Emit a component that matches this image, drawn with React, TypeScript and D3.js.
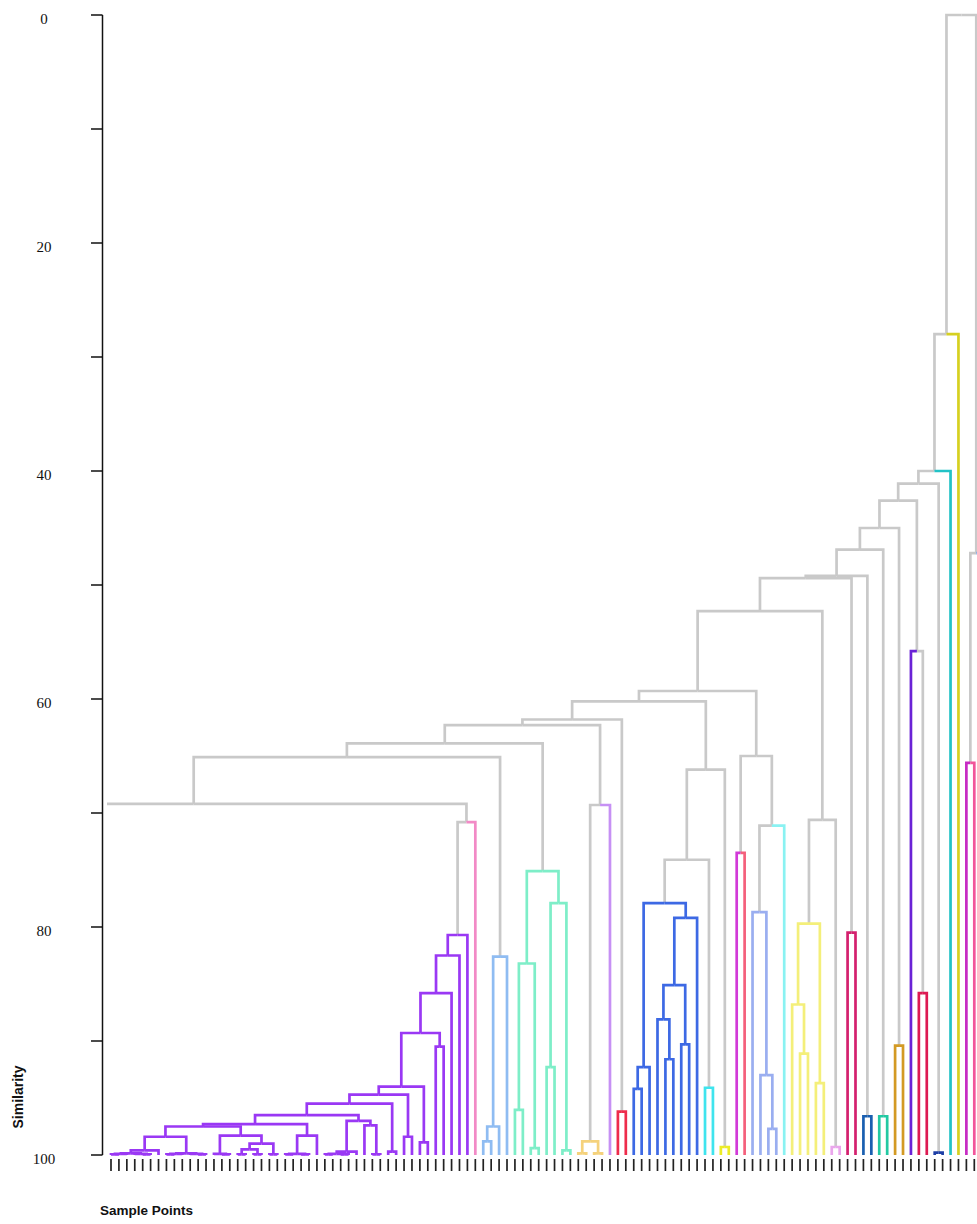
import React, { useMemo } from "react";
import * as d3 from "d3";

// ---------- DATA ----------
// number of leaves in each colour cluster, left to right (leaf indices 0..110; 110 is cut off at the right edge)
const clusterSizes = [46, 1, 4, 8, 4, 1, 2, 9, 2, 2, 1, 1, 4, 1, 5, 2, 2, 2, 2, 2, 1, 2, 2, 1, 1, 1, 1, 1];
const clusterColors = [
  "#9a38f4", "#f28ac6", "#8fbcf2", "#7eeec8", "#f5d27c", "#c690f4", "#ee2c4c",
  "#3d69e4", "#3fe4ee", "#ecec26", "#d23ad8", "#f4607c", "#9aaef0", "#8af2f2",
  "#f4ef7a", "#eaa6ec", "#d4206e", "#1a5fb0", "#22c9a2", "#d39a24", "#6a22d6",
  "#dd1a52", "#1d3fa6", "#22c2c6", "#d6d020", "#c72bc4", "#f2559a", "#7aa6e8",
];
const GRAY = "#c9c9c9";

type Merge = [string, string, string, number];

// merges: [node id, left child, right child, similarity]; numbers are leaf indices
const purpleMerges: Merge[] = [
  ["a1", "0", "1", 99.95], ["a2", "a1", "2", 99.9], ["a3", "4", "5", 99.95],
  ["a4", "3", "a3", 99.9], ["a5", "a2", "a4", 99.85], ["a6", "a5", "6", 99.6],
  ["a7", "7", "8", 99.95], ["a8", "a7", "9", 99.9], ["a9", "11", "12", 99.95],
  ["a10", "10", "a9", 99.9], ["a11", "a8", "a10", 99.85], ["a12", "a6", "a11", 98.4],
  ["a13", "14", "15", 99.95], ["a14", "13", "a13", 99.9], ["a15", "16", "17", 99.95],
  ["a16", "18", "19", 99.95], ["a17", "a15", "a16", 99.5], ["a18", "20", "21", 99.95],
  ["a19", "a17", "a18", 99.0], ["a20", "a14", "a19", 98.3], ["a21", "a12", "a20", 97.5],
  ["a22", "22", "23", 99.95], ["a23", "24", "25", 99.95], ["a24", "a22", "a23", 99.9],
  ["a25", "a24", "26", 98.3], ["a26", "a21", "a25", 97.3], ["a27", "27", "28", 99.95],
  ["a28", "29", "30", 99.95], ["a29", "a27", "a28", 99.9], ["a30", "a29", "31", 99.7],
  ["a31", "33", "34", 99.95], ["a32", "32", "a31", 97.4], ["a33", "a30", "a32", 97.0],
  ["a34", "a26", "a33", 96.5], ["a35", "35", "36", 99.7], ["a36", "a34", "a35", 95.5],
  ["a37", "37", "38", 98.4], ["a38", "a36", "a37", 94.7], ["a39", "39", "40", 98.9],
  ["a40", "a38", "a39", 94.0], ["a41", "41", "42", 90.5], ["a42", "a40", "a41", 89.3],
  ["a43", "a42", "43", 85.8], ["a44", "a43", "44", 82.5], ["purple", "a44", "45", 80.7],
];

const clusterMerges: Merge[] = [
  ["lb1", "47", "48", 98.8], ["lb2", "lb1", "49", 97.5], ["lightblue", "lb2", "50", 82.6],
  ["t1", "51", "52", 96.05], ["t2", "53", "54", 99.4], ["t3", "t1", "t2", 83.2],
  ["t4", "55", "56", 92.3], ["t5", "57", "58", 99.6], ["t6", "t4", "t5", 77.9],
  ["teal", "t3", "t6", 75.1],
  ["o1", "59", "60", 99.85], ["o2", "61", "62", 99.85], ["orange", "o1", "o2", 98.8],
  ["red1", "64", "65", 96.2],
  ["b1", "66", "67", 94.2], ["b2", "b1", "68", 92.3], ["b3", "70", "71", 91.6],
  ["b4", "69", "b3", 88.1], ["b5", "72", "73", 90.3], ["b6", "b4", "b5", 85.1],
  ["b7", "b6", "74", 79.2], ["blue", "b2", "b7", 77.9],
  ["cyan", "75", "76", 94.1], ["ysmall", "77", "78", 99.3],
  ["w1", "83", "84", 97.7], ["w2", "82", "w1", 93.0], ["peri", "81", "w2", 78.7],
  ["y1", "87", "88", 91.1], ["y2", "86", "y1", 86.8], ["y3", "89", "90", 93.7],
  ["yellow", "y2", "y3", 79.7],
  ["lp", "91", "92", 99.3], ["crim", "93", "94", 80.5], ["navy1", "95", "96", 96.6],
  ["tg", "97", "98", 96.6], ["gold", "99", "100", 90.4], ["red2", "102", "103", 85.8],
  ["navy2", "104", "105", 99.8], ["mag", "108", "109", 65.6],
];

const upperMerges: Merge[] = [
  ["pp", "purple", "46", 70.8], ["V", "-24", "pp", 69.2], ["W", "V", "lightblue", 65.1],
  ["X", "W", "teal", 63.9], ["ol", "orange", "63", 69.3], ["Y", "X", "ol", 62.3],
  ["Z", "Y", "red1", 61.8], ["P", "blue", "cyan", 74.1], ["O", "P", "ysmall", 66.2],
  ["N", "Z", "O", 60.2], ["mr", "79", "80", 73.5], ["S", "peri", "85", 71.1],
  ["M", "mr", "S", 65.0], ["K", "N", "M", 59.3], ["L", "yellow", "lp", 70.6],
  ["J", "K", "L", 52.3], ["I", "J", "crim", 49.4], ["H", "I", "navy1", 49.2],
  ["G", "H", "tg", 46.9], ["F", "G", "gold", 45.0], ["E", "101", "red2", 55.8],
  ["D", "F", "E", 42.6], ["C", "D", "navy2", 41.1], ["B", "C", "106", 40.0],
  ["A", "B", "107", 28.0], ["R", "mag", "110", 47.2], ["root", "A", "R", 0],
];

const yTickValues = [0, 10, 20, 30, 40, 50, 60, 70, 80, 90, 100];
const yLabelValues = [0, 20, 40, 60, 80, 100];

// ---------- TREE ----------
type TNode = { id: string; index?: number; height: number; children?: TNode[] };

function buildTree(): TNode {
  const merges = [...purpleMerges, ...clusterMerges, ...upperMerges];
  const nodes = new Map<string, TNode>();
  const get = (ref: string): TNode => {
    const found = nodes.get(ref);
    if (found) return found;
    const leaf: TNode = { id: ref, index: Number(ref), height: 100 };
    nodes.set(ref, leaf);
    return leaf;
  };
  let last: TNode | null = null;
  for (const [id, l, r, h] of merges) {
    const n: TNode = { id, height: h, children: [get(l), get(r)] };
    nodes.set(id, n);
    last = n;
  }
  return last as TNode;
}

const clusterOf = (i: number) => {
  if (i < 0) return -1;
  let acc = 0;
  for (let c = 0; c < clusterSizes.length; c++) {
    acc += clusterSizes[c];
    if (i < acc) return c;
  }
  return -1;
};

export default function App() {
  const W = 977, H = 1224;
  const x = d3.scaleLinear().domain([0, 109]).range([111, 974.3]);
  const y = d3.scaleLinear().domain([0, 100]).range([15, 1155]);

  const { edges, leaves } = useMemo(() => {
    const root = d3.hierarchy(buildTree(), (d) => d.children);
    const px = new Map<any, number>();
    const cl = new Map<any, number>();
    root.eachAfter((d: any) => {
      if (!d.children) {
        px.set(d, x(d.data.index));
        cl.set(d, clusterOf(d.data.index));
      } else {
        px.set(d, d3.mean(d.children, (c: any) => px.get(c)) as number);
        const cs = d.children.map((c: any) => cl.get(c));
        cl.set(d, cs.every((c: number) => c === cs[0] && c >= 0) ? cs[0] : -1);
      }
    });
    const edges: { d: string; color: string }[] = [];
    root.each((d: any) => {
      if (!d.parent) return;
      const pc = cl.get(d.parent) as number;
      let color = GRAY;
      if (pc >= 0) color = clusterColors[pc];
      else if (!d.children && (cl.get(d) as number) >= 0) color = clusterColors[cl.get(d) as number];
      edges.push({
        d: `M${px.get(d)},${y(d.data.height)}V${y(d.parent.data.height)}H${px.get(d.parent)}`,
        color,
      });
    });
    edges.sort((a, b) => (a.color === GRAY ? 0 : 1) - (b.color === GRAY ? 0 : 1));
    const leaves = root.leaves().map((l: any) => px.get(l) as number);
    return { edges, leaves };
  }, []);

  return (
    <svg width={W} height={H} style={{ position: "absolute", left: 0, top: 0, background: "#fff" }}>
      <defs>
        <clipPath id="plotClip">
          <rect x={107} y={0} width={W - 107} height={H} />
        </clipPath>
      </defs>
      <rect x={0} y={0} width={W} height={H} fill="#fff" />
      {/* y axis */}
      <line x1={102.5} x2={102.5} y1={y(0)} y2={y(100)} stroke="#111" strokeWidth={1.5} />
      {yTickValues.map((v) => (
        <line key={v} x1={91} x2={102.5} y1={y(v)} y2={y(v)} stroke="#111" strokeWidth={1.5} />
      ))}
      {yLabelValues.map((v) => (
        <text key={v} x={44} y={y(v) + 9} textAnchor="middle" fontFamily="'Liberation Serif', 'Times New Roman', serif" fontSize={15} fill="#111">
          {v}
        </text>
      ))}
      {/* dendrogram */}
      <g clipPath="url(#plotClip)" fill="none" strokeWidth={2.7} strokeLinejoin="miter">
        {edges.map((e, i) => (
          <path key={i} d={e.d} stroke={e.color} />
        ))}
      </g>
      {/* leaf ticks */}
      <g clipPath="url(#plotClip)">
        {leaves.map((lx, i) => (
          <line key={i} x1={lx} x2={lx} y1={1159} y2={1171} stroke="#222" strokeWidth={1.7} />
        ))}
      </g>
      {/* titles */}
      <text transform="translate(23,1097) rotate(-90)" textAnchor="middle" fontFamily="'Liberation Sans', Arial, sans-serif" fontWeight="bold" fontSize={14} fill="#111">
        Similarity
      </text>
      <text x={100} y={1215} fontFamily="'Liberation Sans', Arial, sans-serif" fontWeight="bold" fontSize={13.5} fill="#111">
        Sample Points
      </text>
    </svg>
  );
}
